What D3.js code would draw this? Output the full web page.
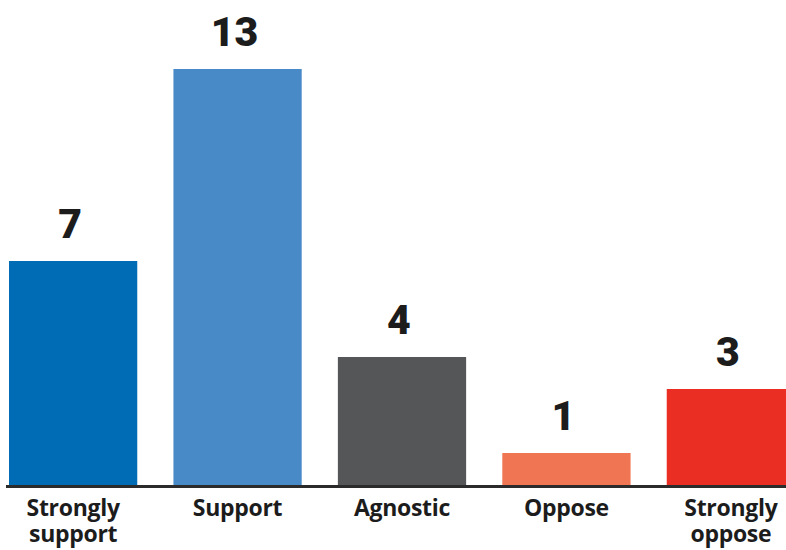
<!DOCTYPE html>
<html>
<head>
<meta charset="utf-8">
<script src="https://cdn.jsdelivr.net/npm/d3@7"></script>
<style>
  html, body { margin: 0; padding: 0; background: #fff; }
  svg { display: block; }
</style>
</head>
<body>
<svg id="chart" width="786" height="550"></svg>
<script>
const categories = ["Strongly support", "Support", "Agnostic", "Oppose", "Strongly oppose"];
const labelLines = [["Strongly", "support"], ["Support"], ["Agnostic"], ["Oppose"], ["Strongly", "oppose"]];
const values = [7, 13, 4, 1, 3];
const colors = ["#006cb6", "#488ac7", "#555658", "#f07552", "#eb2e24"];

const svg = d3.select("#chart");
const W = 786, H = 550;
const baseline = 485;

const x = d3.scaleBand()
  .domain(categories)
  .range([9, 795])
  .paddingInner(0.22)
  .paddingOuter(0);

const y = d3.scaleLinear()
  .domain([0, 13])
  .range([baseline, 69]);

// bars
svg.append("g").selectAll("rect")
  .data(values)
  .join("rect")
  .attr("x", (d, i) => x(categories[i]))
  .attr("y", d => y(d))
  .attr("width", x.bandwidth())
  .attr("height", d => y(0) - y(d))
  .attr("fill", (d, i) => colors[i]);

// value labels
svg.append("g").selectAll("text")
  .data(values)
  .join("text")
  .attr("x", (d, i) => x(categories[i]) + x.bandwidth() / 2 - 3)
  .attr("y", d => y(d) - 23)
  .attr("text-anchor", "middle")
  .attr("font-family", "Roboto, sans-serif")
  .attr("font-weight", 900)
  .attr("font-size", 41)
  .attr("fill", "#1c1c1c")
  .text(d => d);

// axis baseline
const xAxis = d3.axisBottom(x).tickSize(0).tickFormat("");
const axisG = svg.append("g")
  .attr("transform", `translate(0,${baseline + 1.5})`)
  .call(xAxis);
axisG.select(".domain")
  .attr("d", `M6,0H${W}`)
  .attr("stroke", "#2b2b2b")
  .attr("stroke-width", 3);

// category labels (one text per line)
const lines = [];
categories.forEach((c, i) => labelLines[i].forEach((ln, j) => lines.push({ c, ln, j })));
svg.append("g").selectAll("text")
  .data(lines)
  .join("text")
  .attr("x", d => x(d.c) + x.bandwidth() / 2)
  .attr("y", d => 516 + d.j * 26)
  .attr("text-anchor", "middle")
  .attr("font-family", "'Open Sans', sans-serif")
  .attr("font-weight", 700)
  .attr("font-size", 23)
  .attr("letter-spacing", -0.3)
  .attr("fill", "#1c1c1c")
  .text(d => d.ln);
</script>
</body>
</html>
